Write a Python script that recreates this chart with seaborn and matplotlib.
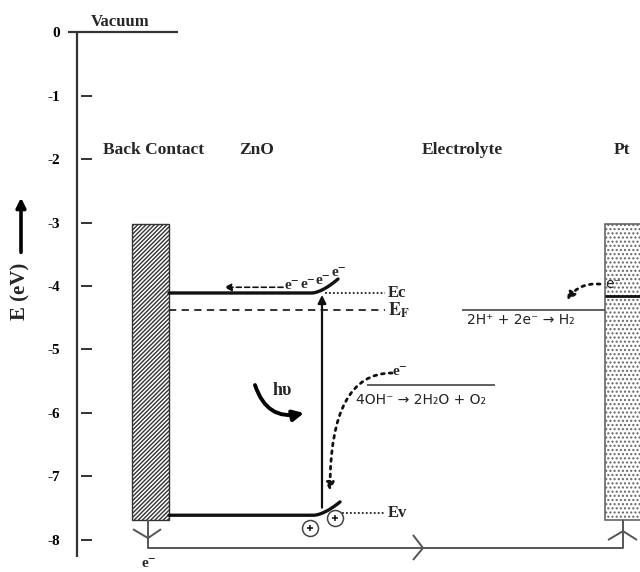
import numpy as np
import pandas as pd
import matplotlib
matplotlib.use("Agg")
import matplotlib.pyplot as plt
import seaborn as sns
from matplotlib.patches import Rectangle

# Energy scale (eV vs. vacuum level)
tick_values = [0, -1, -2, -3, -4, -5, -6, -7, -8]
tick_labels = ["0", "-1", "-2", "-3", "-4", "-5", "-6", "-7", "-8"]
region_names = ["Back Contact", "ZnO", "Electrolyte", "Pt"]

# ZnO band edges and Fermi level
E_c = -4.11
E_F = -4.38
E_v = -7.61
bend_c = 0.22   # upward band bending at the ZnO/electrolyte interface
bend_v = 0.21

# Electrode extents and Pt Fermi level
contact_top = -3.02
contact_bottom = -7.69
E_Pt = -4.16

# Redox levels in the electrolyte
E_O2 = -5.56    # 4OH- / O2
E_H2 = -4.38    # H+ / H2

SERIF = ["Liberation Serif", "DejaVu Serif"]
SANS = ["DejaVu Sans"]
INK = "#111111"
GREY = "#444444"

sns.set_theme(style="white")
plt.rcParams["font.family"] = SERIF
plt.rcParams["mathtext.fontset"] = "stix"
plt.rcParams["hatch.linewidth"] = 1.0

fig = plt.figure(figsize=(6.4, 5.72), dpi=100)
ax = fig.add_axes([0, 0, 1, 1])

# --- band edges with surface bending -------------------------------------
xb = np.linspace(312, 338, 14)
t = (xb - 312) / 26
bands = pd.concat([
    pd.DataFrame({"x": np.r_[169, xb], "E": np.r_[E_c, E_c + bend_c * t ** 1.6], "band": "Ec"}),
    pd.DataFrame({"x": np.r_[169, xb + 2], "E": np.r_[E_v, E_v + bend_v * t ** 1.6], "band": "Ev"}),
])
sns.lineplot(data=bands, x="x", y="E", hue="band", palette=[INK, INK], estimator=None,
             sort=False, legend=False, linewidth=2.4, ax=ax)

ax.set_xlim(0, 640)
ax.set_ylim(-8.504, 0.504)
ax.set_xlabel("")
ax.set_ylabel("")
ax.set_xticks([])

# --- energy axis -----------------------------------------------------------
# ticks sit just right of the drawn axis line, leaving a small gap
for side in ("top", "right", "bottom", "left"):
    ax.spines[side].set_visible(False)
ax.spines["left"].set_position(("data", 81))
ax.vlines(77, -8.27, 0, color="#333333", lw=1.6)
ax.set_yticks(tick_values, tick_labels)
ax.tick_params(axis="y", left=True, direction="in", length=8, width=1.4,
               color="#333333", pad=15, labelsize=11, labelcolor="black")
for lab in ax.get_yticklabels():
    lab.set_fontweight("bold")
ax.hlines(0, 68, 178, color="#333333", lw=1.6)
ax.text(120, 0.16, "Vacuum", ha="center", va="center", fontsize=12, fontweight="bold")

ax.text(20, -4.09, "E (eV)", rotation=90, ha="center", va="center",
        fontsize=15, fontweight="bold")
ax.annotate("", xy=(21, -2.61), xytext=(21, -3.47),
            arrowprops=dict(arrowstyle="-|>", color="black", lw=2.6,
                            mutation_scale=14, shrinkA=0, shrinkB=0))

# --- region titles -----------------------------------------------------------
for name, xc in zip(region_names, [154, 257, 462, 622]):
    ax.text(xc, -1.86, name, ha="center", va="center", fontsize=12.5, fontweight="bold")

# --- electrodes --------------------------------------------------------------
ax.add_patch(Rectangle((132, contact_bottom), 37, contact_top - contact_bottom,
                       facecolor="white", edgecolor="#333333", hatch="////////", lw=1.0))
ax.add_patch(Rectangle((605, contact_bottom), 45, contact_top - contact_bottom,
                       facecolor="white", edgecolor="#666666", hatch="....", lw=1.2))
ax.hlines(E_Pt, 605, 640, color=INK, lw=2.0)

# --- levels ------------------------------------------------------------------
ax.hlines(E_F, 169, 385, color="#222222", lw=1.3, linestyles=(0, (4, 3)))
ax.hlines(E_c, 325, 385, color="#222222", lw=1.3, linestyles=(0, (1, 1.2)))
ax.hlines(E_v + 0.03, 342, 385, color="#222222", lw=1.3, linestyles=(0, (1, 1.2)))
ax.text(388, E_c, "Ec", ha="left", va="center", fontsize=12, fontweight="bold")
ax.text(388, E_F, r"$\mathbf{E_F}$", ha="left", va="center", fontsize=13)
ax.text(388, E_v + 0.03, "Ev", ha="left", va="center", fontsize=12, fontweight="bold")

ax.hlines(E_O2, 367, 495, color=GREY, lw=1.2)
ax.hlines(E_H2, 462, 605, color=GREY, lw=1.2)
ax.text(356, -5.80, "4OH⁻ → 2H₂O + O₂", family=SANS, ha="left", va="center",
        fontsize=10, color="#222222")
ax.text(467, -4.54, "2H⁺ + 2e⁻ → H₂", family=SANS, ha="left", va="center",
        fontsize=10, color="#222222")

# --- charge-carrier labels and arrows ----------------------------------------
for xe, ye in zip([292, 308, 323, 339], [-3.99, -3.97, -3.92, -3.78]):
    ax.text(xe, ye, "e⁻", ha="center", va="center", fontsize=11, fontweight="bold")
ax.text(400, -5.34, "e⁻", ha="center", va="center", fontsize=11, fontweight="bold")
ax.text(613, -3.97, "e⁻", family=SANS, ha="center", va="center", fontsize=10, color="#222222")
ax.text(149, -8.37, "e⁻", ha="center", va="center", fontsize=11, fontweight="bold")

ax.annotate("", xy=(224, -4.02), xytext=(283, -4.02),
            arrowprops=dict(arrowstyle="-|>", color=INK, lw=1.2, linestyle=(0, (3, 2)),
                            mutation_scale=11, shrinkA=0, shrinkB=0))
ax.annotate("", xy=(322, E_c - 0.03), xytext=(322, E_v + 0.12),
            arrowprops=dict(arrowstyle="-|>", color=INK, lw=1.6,
                            mutation_scale=12, shrinkA=0, shrinkB=0))
ax.annotate("", xy=(330, -7.23), xytext=(392, -5.37),
            arrowprops=dict(arrowstyle="-|>", color=INK, lw=2.0, linestyle=(0, (1, 1.8)),
                            connectionstyle="angle3,angleA=0,angleB=90",
                            mutation_scale=12, shrinkA=0, shrinkB=0))
ax.annotate("", xy=(567, -4.23), xytext=(600, -3.97),
            arrowprops=dict(arrowstyle="-|>", color=INK, lw=2.0, linestyle=(0, (1, 1.8)),
                            connectionstyle="arc3,rad=0.3",
                            mutation_scale=12, shrinkA=0, shrinkB=0))

# light absorption
ax.annotate("", xy=(304, -6.0), xytext=(255, -5.56),
            arrowprops=dict(arrowstyle="-|>", color="black", lw=2.8,
                            connectionstyle="arc3,rad=0.45",
                            mutation_scale=16, shrinkA=0, shrinkB=0))
ax.text(282, -5.65, "hυ", ha="center", va="center", fontsize=13, fontweight="bold")

# holes in the valence band
for xh, yh in zip([310, 335], [-7.81, -7.65]):
    ax.plot([xh], [yh], marker="o", ms=11.5, mfc="none", mec=GREY, mew=1.1)
    ax.plot([xh], [yh], marker="+", ms=5, mec=INK, mew=1.1)

# --- external circuit --------------------------------------------------------
wire = dict(color="#555555", lw=1.4, solid_capstyle="butt")
ax.plot([148, 148, 623, 623], [contact_bottom, -8.126, -8.126, contact_bottom], **wire)
ax.plot([133, 148, 161], [-7.83, -7.97, -7.83], **wire)
ax.plot([608, 623, 637], [-8.0, -7.86, -8.0], **wire)
ax.plot([413, 423, 413], [-7.92, -8.126, -8.315], **wire)

fig.savefig("out.png", dpi=100, facecolor="white")
